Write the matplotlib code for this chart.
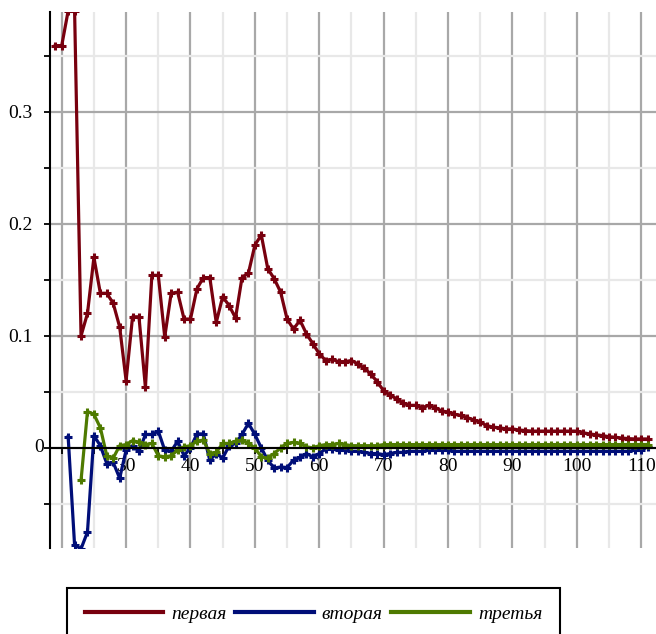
import numpy as np
import matplotlib
matplotlib.use('Agg')
import matplotlib.pyplot as plt
from matplotlib.ticker import MultipleLocator, FixedLocator, FixedFormatter

plt.rcParams['font.family'] = ['Liberation Serif', 'DejaVu Serif']

# x positions of each series
x_first = list(range(19, 112))
x_second = list(range(21, 112))
x_third = list(range(23, 112))

# values
first = [0.359, 0.359, 0.390, 0.390, 0.100, 0.120, 0.170, 0.138, 0.138, 0.129,
         0.108, 0.060, 0.117, 0.117, 0.054, 0.154, 0.154, 0.099, 0.138, 0.139,
         0.115, 0.115, 0.142, 0.152, 0.152, 0.112, 0.135, 0.127, 0.116, 0.152,
         0.156, 0.181, 0.190, 0.160, 0.151, 0.139, 0.115, 0.106, 0.114, 0.102,
         0.093, 0.084, 0.078, 0.079, 0.077, 0.077, 0.078, 0.075, 0.071, 0.066,
         0.059, 0.051, 0.047, 0.044, 0.040, 0.038, 0.038, 0.036, 0.038, 0.036,
         0.033, 0.032, 0.030, 0.029, 0.027, 0.025, 0.023, 0.020, 0.0185, 0.018,
         0.017, 0.017, 0.016, 0.0155, 0.015, 0.015, 0.015, 0.015, 0.015, 0.015,
         0.015, 0.015, 0.0135, 0.0125, 0.0117, 0.011, 0.010, 0.0095, 0.0088, 0.0083,
         0.008, 0.008, 0.008]

second = [0.010, -0.087, -0.090, -0.075, 0.011, 0.002, -0.014, -0.013, -0.027, -0.002,
          0.002, -0.003, 0.012, 0.012, 0.015, -0.002, -0.003, 0.006, -0.007, 0.000,
          0.0125, 0.0125, -0.011, -0.005, -0.009, 0.002, 0.004, 0.012, 0.022, 0.012,
          0.000, -0.011, -0.018, -0.017, -0.0175, -0.011, -0.0085, -0.005, -0.008, -0.005,
          -0.001, -0.001, -0.002, -0.002, -0.003, -0.003, -0.004, -0.005, -0.005, -0.006,
          -0.005, -0.004, -0.004, -0.003, -0.003, -0.003, -0.002, -0.002, -0.002, -0.002,
          -0.003, -0.003, -0.003, -0.003, -0.003, -0.003, -0.003, -0.003, -0.003, -0.003,
          -0.003, -0.003, -0.003, -0.003, -0.003, -0.003, -0.003, -0.003, -0.003, -0.003,
          -0.003, -0.003, -0.003, -0.003, -0.003, -0.003, -0.003, -0.003, -0.002, -0.002,
          0.001]

third = [-0.029, 0.0325, 0.030, 0.018, -0.007, -0.009, 0.002, 0.003, 0.0065, 0.005,
         0.003, 0.004, -0.007, -0.008, -0.007, -0.002, 0.001, 0.002, 0.006, 0.007,
         -0.005, -0.004, 0.004, 0.004, 0.006, 0.007, 0.004, 0.000, -0.008, -0.009,
         -0.005, 0.000, 0.004, 0.005, 0.004, 0.001, 0.000, 0.002, 0.003, 0.003,
         0.004, 0.003, 0.002, 0.002, 0.002, 0.002, 0.002, 0.003, 0.003, 0.003,
         0.003, 0.003, 0.003, 0.003, 0.003, 0.003, 0.003, 0.003, 0.003, 0.003,
         0.003, 0.003, 0.003, 0.003, 0.003, 0.003, 0.003, 0.003, 0.003, 0.003,
         0.003, 0.003, 0.003, 0.003, 0.003, 0.003, 0.003, 0.003, 0.003, 0.003,
         0.003, 0.003, 0.003, 0.003, 0.003, 0.003, 0.003, 0.003, 0.003]

labels = ['первая', 'вторая', 'третья']
colors = ['#78000E', '#000E78', '#4E7A00']

x_ticks = list(range(20, 120, 10))
x_tick_labels = [''] + [str(v) for v in x_ticks[1:]]
y_ticks = [0, 0.1, 0.2, 0.3]
y_tick_labels = ['', '0.1', '0.2', '0.3']


fig = plt.figure(figsize=(6.56, 6.34), dpi=100)
ax = fig.add_axes([50 / 656, 86 / 634, 606 / 656, 536 / 634])

# the three curves
for xs, ys, col, lab in zip([x_first, x_second, x_third], [first, second, third], colors, labels):
    ax.plot(xs, ys, color=col, lw=2.3, marker='+', ms=6, mew=2.2, label=lab, zorder=2)

ax.set_xlim(18.18, 112.3)
ax.set_ylim(-0.0893, 0.389)

# grid, Maple style
ax.xaxis.set_major_locator(FixedLocator(x_ticks))
ax.xaxis.set_major_formatter(FixedFormatter(x_tick_labels))
ax.xaxis.set_minor_locator(MultipleLocator(5))
ax.yaxis.set_major_locator(FixedLocator(y_ticks))
ax.yaxis.set_major_formatter(FixedFormatter(y_tick_labels))
ax.yaxis.set_minor_locator(MultipleLocator(0.05))
ax.grid(which='major', color='#a8a8a8', lw=1.6)
ax.grid(which='minor', color='#e8e8e8', lw=1.6)
ax.set_axisbelow(True)

# axes crossing at zero
ax.spines['top'].set_visible(False)
ax.spines['right'].set_visible(False)
ax.spines['bottom'].set_position(('data', 0))
ax.spines['bottom'].set_linewidth(1.5)
ax.spines['left'].set_linewidth(1.5)

ax.tick_params(axis='x', which='both', direction='out', length=4, width=1.3, pad=3, labelsize=14)
ax.tick_params(axis='y', which='both', direction='out', length=4, width=1.3, pad=8.5, labelsize=14)

ax.annotate('0', xy=(0, 0), xycoords=('axes fraction', 'data'), xytext=(-4.5, 0),
            textcoords='offset points', ha='right', va='center', fontsize=14)

leg = fig.legend(loc='upper left', bbox_to_anchor=(67 / 656, 1 - 588 / 634), ncol=3,
                 prop={'style': 'italic', 'size': 14}, handlelength=4.05,
                 handletextpad=0.4, columnspacing=0.45, borderpad=0.9, borderaxespad=0,
                 fancybox=False, framealpha=1, edgecolor='black')
leg.get_frame().set_linewidth(1.5)
for line in leg.get_lines():
    line.set_marker('')
    line.set_linewidth(3)

fig.savefig('out.png', dpi=100)
